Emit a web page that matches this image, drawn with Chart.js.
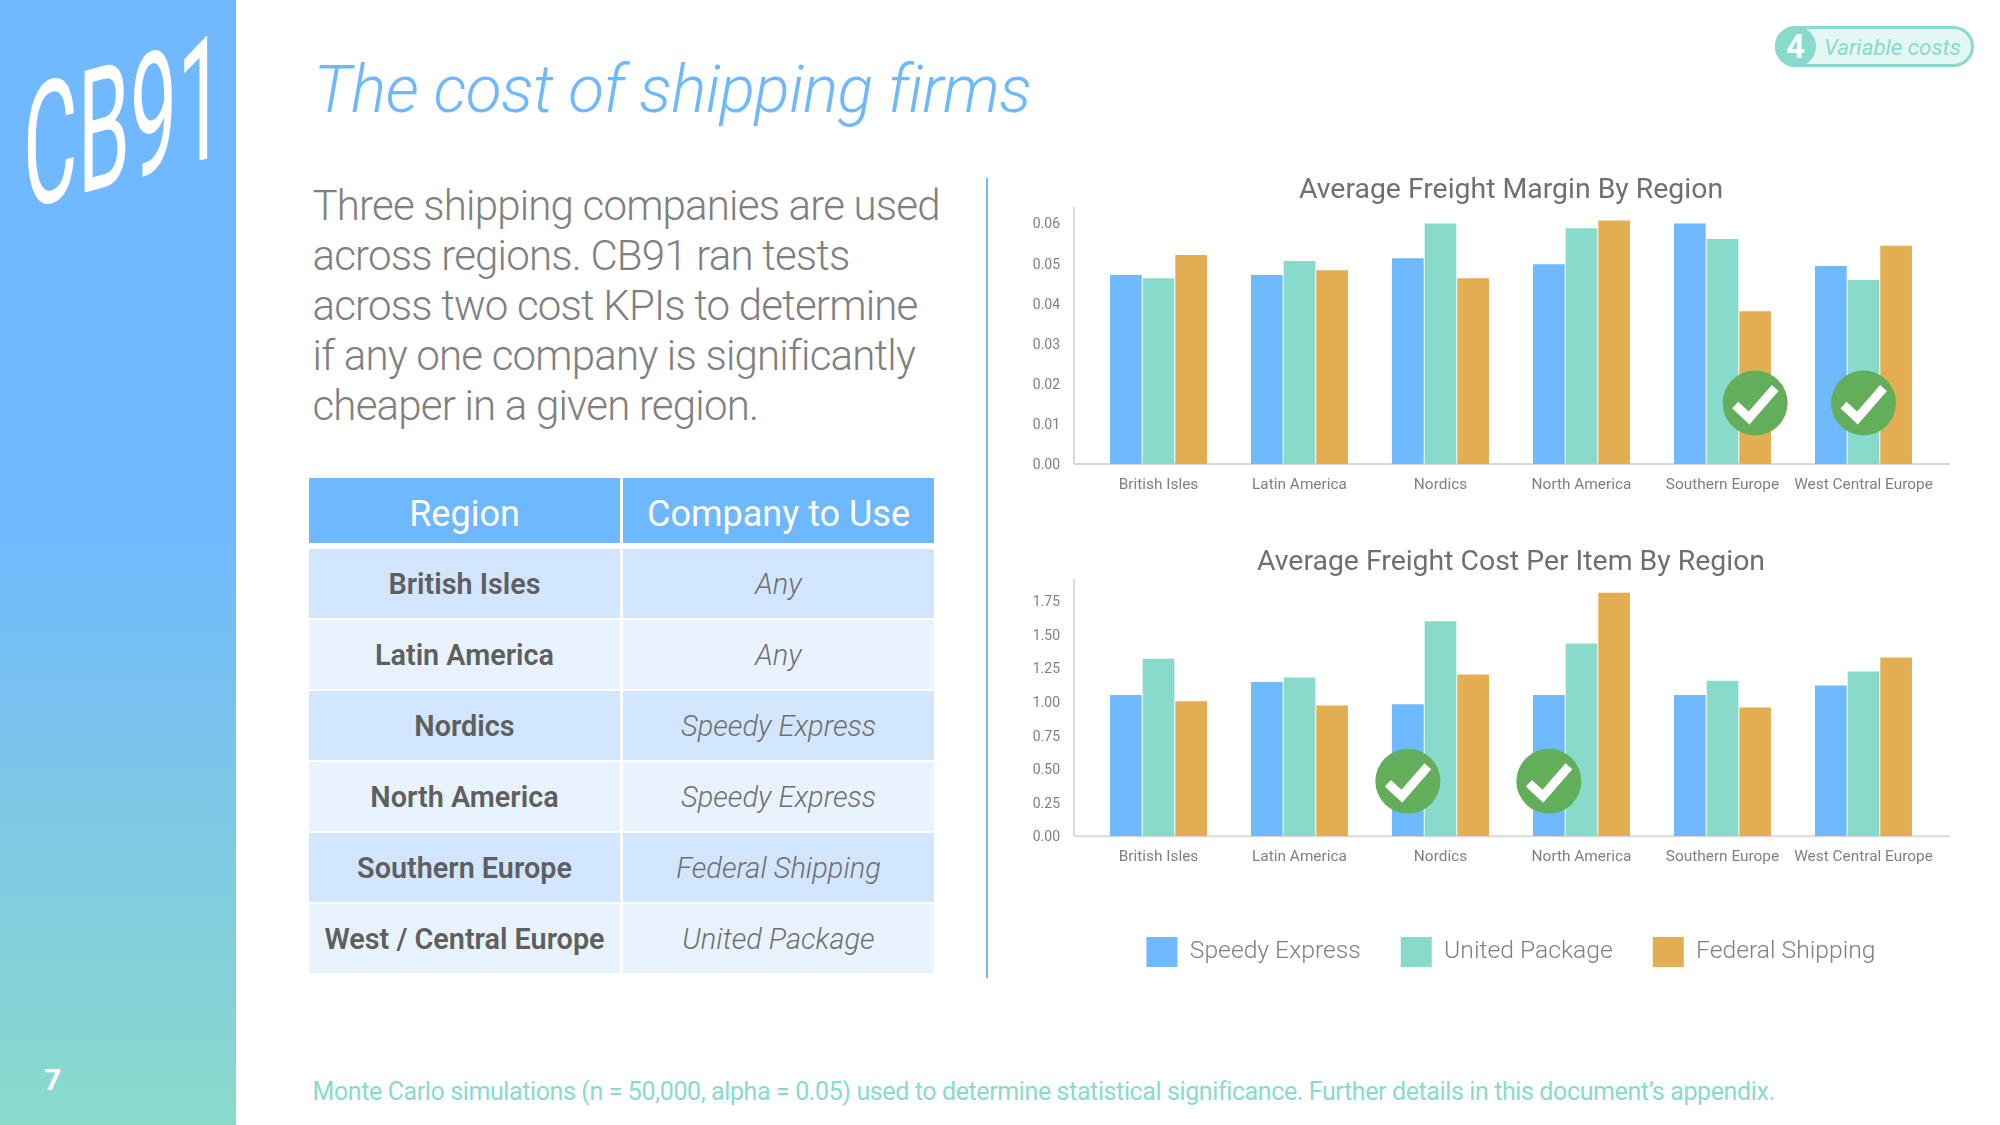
<!DOCTYPE html>
<html>
<head>
<meta charset="utf-8">
<script src="https://cdn.jsdelivr.net/npm/chart.js@4"></script>
<style>
html,body{margin:0;padding:0;background:#fff;width:2000px;height:1125px;overflow:hidden;font-family:Roboto,sans-serif}
.abs{position:absolute}
#side{left:0;top:0;width:236px;height:1125px;background:linear-gradient(180deg,#70b8ff 0%,#70b8ff 46%,#89dbcb 100%)}
#logo{left:23px;top:66px;color:#fff;font-weight:400;font-size:150px;line-height:1;transform-origin:left top;transform:skewY(-15.5deg) scale(.56,1.14);white-space:nowrap}
#page{left:44px;top:1062px;color:#fff;font-weight:700;font-size:30px;line-height:36px}
#title{left:313.5px;top:48px;color:#6eb8ff;font-style:italic;font-weight:300;font-size:66px;line-height:84px;letter-spacing:-.62px;white-space:nowrap}
#body{left:312.5px;top:181px;color:#7f7f7f;font-weight:300;font-size:42px;line-height:50px;letter-spacing:-.8px;white-space:nowrap}
#divider{left:986px;top:178px;width:2px;height:800px;background:#6eb8ff}
#tbl{left:309px;top:478px;width:625px;display:grid;grid-template-columns:311px 311px;column-gap:3px}
#tbl div{display:flex;align-items:center;justify-content:center;white-space:nowrap;box-sizing:border-box}
.h{height:65px;background:#6eb8ff;color:#fff;font-size:36px;margin-bottom:6px;padding-top:6px}
.r{height:69px;margin-bottom:2.1px;color:#5f5f5f;font-weight:600;font-size:28.8px;padding-top:1px}
.c{height:69px;margin-bottom:2.1px;color:#6f6f6f;font-style:italic;font-weight:300;font-size:29px;padding-top:1px}
.o{background:#d2e6ff}.e{background:#e9f3ff}
#pill{left:1775px;top:26px;width:193px;height:35px;border:3px solid #88dbcc;border-radius:22px;background:#e4f7f3}
#pillc{left:1775px;top:26px;width:41px;height:41px;border-radius:50%;background:#88dbcc;color:#fff;font-weight:700;font-size:33px;line-height:41px;text-align:center}
#pillt{left:1824px;top:27px;line-height:41px;color:#88dbcc;font-style:italic;font-size:22.3px;font-weight:400;white-space:nowrap}
#foot{left:312.5px;top:1076px;color:#88dbcc;font-size:25px;line-height:32px;letter-spacing:-.39px;white-space:nowrap}
canvas{position:absolute;display:block}
</style>
</head>
<body>
<div id="side" class="abs"></div>
<div id="logo" class="abs">CB91</div>
<div id="page" class="abs">7</div>
<div id="title" class="abs">The cost of shipping firms</div>
<div id="body" class="abs">Three shipping companies are used<br>across regions. CB91 ran tests<br>across two cost KPIs to determine<br>if any one company is significantly<br>cheaper in a given region.</div>
<div id="divider" class="abs"></div>
<div id="tbl" class="abs"></div>
<div id="pill" class="abs"></div>
<div id="pillc" class="abs">4</div>
<div id="pillt" class="abs">Variable costs</div>
<div id="foot" class="abs">Monte Carlo simulations (n = 50,000, alpha = 0.05) used to determine statistical significance. Further details in this document’s appendix.</div>
<canvas id="c1" width="976" height="344" style="left:1024px;top:160px"></canvas>
<canvas id="c2" width="976" height="443" style="left:1024px;top:534px"></canvas>
<script>
const regions = ["British Isles","Latin America","Nordics","North America","Southern Europe","West Central Europe"];
const seriesNames = ["Speedy Express","United Package","Federal Shipping"];
const marginSpeedy  = [0.0471,0.0471,0.0513,0.0498,0.0600,0.0494];
const marginUnited  = [0.0463,0.0506,0.0600,0.0588,0.0561,0.0459];
const marginFederal = [0.0521,0.0483,0.0463,0.0607,0.0381,0.0544];
const costSpeedy  = [1.052,1.147,0.983,1.052,1.052,1.122];
const costUnited  = [1.320,1.181,1.600,1.435,1.157,1.226];
const costFederal = [1.005,0.973,1.204,1.812,0.958,1.330];
const marginChecks = [[4,2,0.0152],[5,1,0.0152]];
const costChecks   = [[2,0,0.41],[3,0,0.41]];
const tableRegions = ["British Isles","Latin America","Nordics","North America","Southern Europe","West / Central Europe"];
const tableCompany = ["Any","Any","Speedy Express","Speedy Express","Federal Shipping","United Package"];
const colors = ["#6fb9ff","#88dbcb","#e3ad52"];

const tbl = document.getElementById('tbl');
let html = '<div class="h">Region</div><div class="h">Company to Use</div>';
tableRegions.forEach((r,i)=>{const k=i%2?'e':'o';html+=`<div class="r ${k}">${r}</div><div class="c ${k}">${tableCompany[i]}</div>`;});
tbl.innerHTML = html;

const axisLines = {id:'axisLines',beforeDatasetsDraw(ch){
  const a=ch.chartArea,c=ch.ctx;c.save();c.strokeStyle='#d9d9d9';c.lineWidth=2;c.beginPath();
  c.moveTo(a.left-14,a.top);c.lineTo(a.left-14,a.bottom);c.moveTo(a.left-14,a.bottom);c.lineTo(a.right+16,a.bottom);c.stroke();c.restore();
}};
const checks = {id:'checks',afterDatasetsDraw(ch,args,opts){
  const c=ch.ctx;
  opts.items.forEach(([cat,ds,val])=>{
    const x=ch.getDatasetMeta(ds).data[cat].x,y=ch.scales.y.getPixelForValue(val);
    c.save();c.translate(x,y);c.fillStyle='#62ae5b';c.beginPath();c.arc(0,0,32.5,0,Math.PI*2);c.fill();
    c.strokeStyle='#fff';c.lineWidth=9;c.lineCap='butt';c.lineJoin='miter';c.beginPath();
    c.moveTo(-20,2);c.lineTo(-6,15);c.lineTo(20,-15);c.stroke();c.restore();
  });
}};
function makeChart(id,title,data,max,step,chk,legend,xH,padT,padB,lh){
  return new Chart(document.getElementById(id),{
    type:'bar',
    data:{labels:regions,datasets:seriesNames.map((n,i)=>({label:n,data:data[i],backgroundColor:colors[i],borderWidth:0,barPercentage:.97,categoryPercentage:.6945}))},
    plugins:[axisLines,checks],
    options:{responsive:false,animation:false,devicePixelRatio:1,
      layout:{padding:{right:66,left:0,top:0,bottom:0}},
      plugins:{
        title:{display:true,fullSize:false,text:title,color:'#6f6f6f',font:{family:'Roboto',size:28.4,weight:'400',lineHeight:lh},padding:{top:padT,bottom:padB}},
        legend:{display:legend,fullSize:false,position:'bottom',labels:{boxWidth:31,boxHeight:30,padding:40,color:'#7f7f7f',font:{family:'Roboto',size:24.7,weight:'300'}}},
        tooltip:{enabled:false},
        checks:{items:chk}
      },
      scales:{
        x:{grid:{display:false,drawTicks:false},border:{display:false},afterFit(s){s.height=xH;},
           ticks:{maxRotation:0,minRotation:0,autoSkip:false,padding:12,color:'#7f7f7f',font:{family:'Roboto',size:15.4,weight:'400'}}},
        y:{min:0,max:max,grid:{display:false,drawTicks:false},border:{display:false},afterFit(s){s.width=64;},
           ticks:{stepSize:step,includeBounds:false,padding:28,labelOffset:1.6,color:'#7f7f7f',font:{family:'Roboto',size:14,weight:'400'},callback:v=>Number(v).toFixed(2)}}
      }
    }
  });
}
makeChart('c1','Average Freight Margin By Region',[marginSpeedy,marginUnited,marginFederal],0.0641,0.01,marginChecks,false,40,15,.7,1.1);
makeChart('c2','Average Freight Cost Per Item By Region',[costSpeedy,costUnited,costFederal],1.914,0.25,costChecks,true,60.7,15,1.6,1);
</script>
</body>
</html>
